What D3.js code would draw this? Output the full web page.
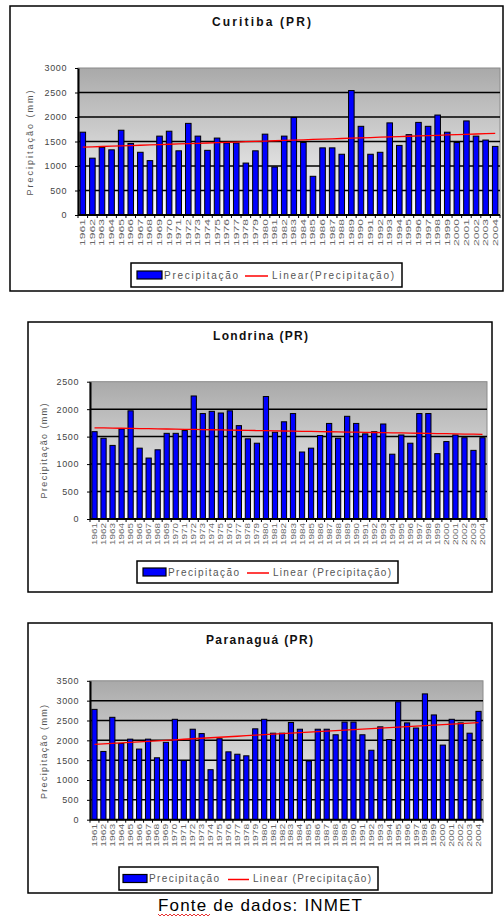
<!DOCTYPE html>
<html>
<head>
<meta charset="utf-8">
<script src="https://cdn.jsdelivr.net/npm/d3@7"></script>
<style>
  body { margin: 0; background: #fff; }
  svg { display: block; font-family: "Liberation Sans", Arial, sans-serif; }
</style>
</head>
<body>
<svg id="chart" width="504" height="920"></svg>
<script>
// categories: years 1961-2004
const years = [1961, 1962, 1963, 1964, 1965, 1966, 1967, 1968, 1969, 1970,
  1971, 1972, 1973, 1974, 1975, 1976, 1977, 1978, 1979, 1980,
  1981, 1982, 1983, 1984, 1985, 1986, 1987, 1988, 1989, 1990,
  1991, 1992, 1993, 1994, 1995, 1996, 1997, 1998, 1999, 2000,
  2001, 2002, 2003, 2004];

// annual precipitation (mm)
const curitiba = [1690, 1160, 1380, 1330, 1730, 1460, 1280, 1110, 1610, 1710,
  1310, 1870, 1610, 1320, 1570, 1470, 1470, 1060, 1310, 1650,
  980, 1610, 1990, 1480, 790, 1370, 1370, 1240, 2540, 1810,
  1240, 1280, 1880, 1420, 1640, 1890, 1810, 2040, 1690, 1480,
  1920, 1610, 1530, 1400];

const londrina = [1590, 1470, 1340, 1640, 1970, 1290, 1110, 1260, 1560, 1560,
  1610, 2240, 1920, 1960, 1930, 1970, 1700, 1460, 1380, 2230,
  1580, 1770, 1920, 1220, 1290, 1520, 1740, 1470, 1870, 1740,
  1550, 1590, 1730, 1180, 1530, 1380, 1920, 1920, 1190, 1410,
  1530, 1480, 1250, 1480];

const paranagua = [2780, 1720, 2580, 1920, 2030, 1780, 2030, 1560, 1950, 2530,
  1490, 2280, 2170, 1260, 2040, 1710, 1650, 1610, 2290, 2530,
  2180, 2180, 2450, 2280, 1480, 2280, 2280, 2140, 2460, 2460,
  2140, 1750, 2340, 2020, 2970, 2440, 2310, 3170, 2640, 1880,
  2530, 2440, 2180, 2730];

// y axis ticks
const ticksCuritiba = [0, 500, 1000, 1500, 2000, 2500, 3000];
const ticksLondrina = [0, 500, 1000, 1500, 2000, 2500];
const ticksParanagua = [0, 500, 1000, 1500, 2000, 2500, 3000, 3500];

const svg = d3.select("#chart");

// plot area gradient (grey on top, fading to white)
const defs = svg.append("defs");
const grad = defs.append("linearGradient")
  .attr("id", "wall")
  .attr("x1", 0).attr("y1", 0).attr("x2", 0).attr("y2", 1);
grad.append("stop").attr("offset", "0%").attr("stop-color", "#a9a9a9");
grad.append("stop").attr("offset", "100%").attr("stop-color", "#fbfbfb");

// least squares trend, like Excel's "Linear" trendline
function trend(values) {
  const xs = values.map((v, i) => i + 1);
  const mx = d3.mean(xs), my = d3.mean(values);
  const b = d3.sum(xs, (x, i) => (x - mx) * (values[i] - my)) / d3.sum(xs, x => (x - mx) * (x - mx));
  const a = my - b * mx;
  return xs.map(x => a + b * x);
}

function drawChart(o) {
  const g = svg.append("g");

  // outer frame
  g.append("rect")
    .attr("x", o.box[0]).attr("y", o.box[1])
    .attr("width", o.box[2]).attr("height", o.box[3])
    .attr("fill", "#fff").attr("stroke", "#000").attr("stroke-width", 1.5);

  // title
  g.append("text")
    .attr("x", o.titleX).attr("y", o.titleY)
    .attr("font-size", 12).attr("font-weight", "bold")
    .attr("fill", "#111")
    .attr("textLength", o.titleLen)
    .attr("lengthAdjust", "spacing")
    .text(o.title);

  const x = d3.scaleBand()
    .domain(years)
    .range([o.left, o.right])
    .paddingInner(0.42)
    .paddingOuter(0.21);

  const y = d3.scaleLinear()
    .domain([0, o.max])
    .range([o.bottom, o.top]);

  // plot wall
  g.append("rect")
    .attr("x", o.left).attr("y", o.top)
    .attr("width", o.right - o.left).attr("height", o.bottom - o.top)
    .attr("fill", "url(#wall)")
    .attr("stroke", "#8a8a8a").attr("stroke-width", 1);

  // gridlines
  g.selectAll(".grid")
    .data(o.ticks.filter(t => t > 0 && t < o.max))
    .enter()
    .append("line")
    .attr("x1", o.left).attr("x2", o.right)
    .attr("y1", d => y(d)).attr("y2", d => y(d))
    .attr("stroke", "#000").attr("stroke-width", 1.5);

  // bars
  g.selectAll(".bar")
    .data(o.values)
    .enter()
    .append("rect")
    .attr("x", (d, i) => x(years[i]))
    .attr("y", d => y(d))
    .attr("width", x.bandwidth())
    .attr("height", d => y(0) - y(d))
    .attr("fill", "#0000ff")
    .attr("stroke", "#000")
    .attr("stroke-width", 1);

  // trend line
  const t = trend(o.values);
  const line = d3.line()
    .x((d, i) => x(years[i]) + x.bandwidth() / 2)
    .y(d => y(d));
  g.append("path")
    .datum(t)
    .attr("d", line)
    .attr("fill", "none")
    .attr("stroke", "#ff0000")
    .attr("stroke-width", 1.3);

  // y axis
  const yAxis = g.append("g")
    .attr("transform", `translate(${o.left},0)`)
    .call(d3.axisLeft(y).tickValues(o.ticks).tickFormat(d3.format("d"))
      .tickSize(3).tickSizeOuter(0).tickPadding(8));
  yAxis.select(".domain").attr("stroke", "#000").attr("stroke-width", 2);
  yAxis.selectAll("line").attr("stroke", "#000");
  yAxis.selectAll("text").attr("font-size", 9).attr("fill", "#444")
    .attr("letter-spacing", 0.6)
    .attr("font-family", "Liberation Sans, Arial, sans-serif");

  // x axis line and ticks between categories
  g.append("line")
    .attr("x1", o.left).attr("x2", o.right)
    .attr("y1", o.bottom).attr("y2", o.bottom)
    .attr("stroke", "#000").attr("stroke-width", 2);
  const step = x.step();
  g.selectAll(".xtick")
    .data(years.concat([null]))
    .enter()
    .append("line")
    .attr("x1", (d, i) => o.left + i * step)
    .attr("x2", (d, i) => o.left + i * step)
    .attr("y1", o.bottom).attr("y2", o.bottom + 3)
    .attr("stroke", "#000").attr("stroke-width", 1);

  // rotated year labels
  g.selectAll(".xlab")
    .data(years)
    .enter()
    .append("text")
    .attr("transform", d => `translate(${x(d) + x.bandwidth() / 2 + 2.5},${o.bottom + 4}) rotate(-90)`)
    .attr("text-anchor", "end")
    .attr("font-size", 7)
    .attr("fill", "#666")
    .attr("textLength", o.labelSpan)
    .attr("lengthAdjust", "spacingAndGlyphs")
    .text(d => d);

  // y axis title
  g.append("text")
    .attr("transform", `translate(${o.yTitleX},${o.yTitleY}) rotate(-90)`)
    .attr("text-anchor", "middle")
    .attr("font-size", 9)
    .attr("fill", "#555")
    .attr("textLength", o.yTitleLen)
    .attr("lengthAdjust", "spacing")
    .text("Precipitação (mm)");

  // legend
  const L = o.legend;
  const mid = L.y + L.h / 2;
  const lg = g.append("g");
  lg.append("rect")
    .attr("x", L.x).attr("y", L.y).attr("width", L.w).attr("height", L.h)
    .attr("fill", "#fff").attr("stroke", "#000").attr("stroke-width", 1.5);
  lg.append("rect")
    .attr("x", L.sw[0]).attr("y", mid - 4)
    .attr("width", L.sw[1] - L.sw[0]).attr("height", 8)
    .attr("fill", "#0000ff").attr("stroke", "#000").attr("stroke-width", 1.2);
  lg.append("text")
    .attr("x", L.sw[1] + 2).attr("y", mid + 3.5)
    .attr("font-size", 10).attr("fill", "#555")
    .attr("textLength", L.t1).attr("lengthAdjust", "spacing")
    .text("Precipitação");
  lg.append("line")
    .attr("x1", L.ln[0]).attr("x2", L.ln[1])
    .attr("y1", mid + 1).attr("y2", mid + 1)
    .attr("stroke", "#ff0000").attr("stroke-width", 1.5);
  lg.append("text")
    .attr("x", L.ln[1] + 4).attr("y", mid + 3.5)
    .attr("font-size", 10).attr("fill", "#555")
    .attr("textLength", L.t2).attr("lengthAdjust", "spacing")
    .text(o.trendLabel);
}

drawChart({
  box: [10, 6, 493, 285],
  title: "Curitiba (PR)", titleX: 212, titleY: 26, titleLen: 99,
  left: 78, right: 500, top: 68, bottom: 215,
  max: 3000, ticks: ticksCuritiba, values: curitiba,
  labelSpan: 27, yTitleX: 33, yTitleY: 143, yTitleLen: 105,
  legend: { x: 131, y: 263, w: 271, h: 24, sw: [137, 162], t1: 74, ln: [245, 268], t2: 122 },
  trendLabel: "Linear(Precipitação)"
});

drawChart({
  box: [28, 322, 464, 270],
  title: "Londrina (PR)", titleX: 213, titleY: 340, titleLen: 95,
  left: 90, right: 487, top: 381.7, bottom: 519,
  max: 2500, ticks: ticksLondrina, values: londrina,
  labelSpan: 22, yTitleX: 47, yTitleY: 451, yTitleLen: 95,
  legend: { x: 137, y: 561, w: 261, h: 22, sw: [143, 166], t1: 71, ln: [247, 269], t2: 118 },
  trendLabel: "Linear (Precipitação)"
});

drawChart({
  box: [28, 623, 464, 270],
  title: "Paranaguá (PR)", titleX: 206, titleY: 644, titleLen: 107,
  left: 90, right: 483, top: 680.8, bottom: 819.7,
  max: 3500, ticks: ticksParanagua, values: paranagua,
  labelSpan: 23, yTitleX: 47, yTitleY: 752, yTitleLen: 94,
  legend: { x: 119, y: 867, w: 259, h: 23, sw: [123, 147], t1: 70, ln: [228, 249], t2: 118 },
  trendLabel: "Linear (Precipitação)"
});

// source note
svg.append("text")
  .attr("x", 158).attr("y", 911)
  .attr("font-size", 17)
  .attr("fill", "#000")
  .attr("textLength", 204)
  .attr("lengthAdjust", "spacing")
  .text("Fonte de dados: INMET");

// spell-check squiggle under "Fonte"
let squiggle = "M158,914";
for (let sx = 158; sx < 208; sx += 4) {
  squiggle += ` L${sx + 2},916 L${sx + 4},914`;
}
svg.append("path")
  .attr("d", squiggle)
  .attr("fill", "none")
  .attr("stroke", "#e00000")
  .attr("stroke-width", 0.8);
</script>
</body>
</html>
